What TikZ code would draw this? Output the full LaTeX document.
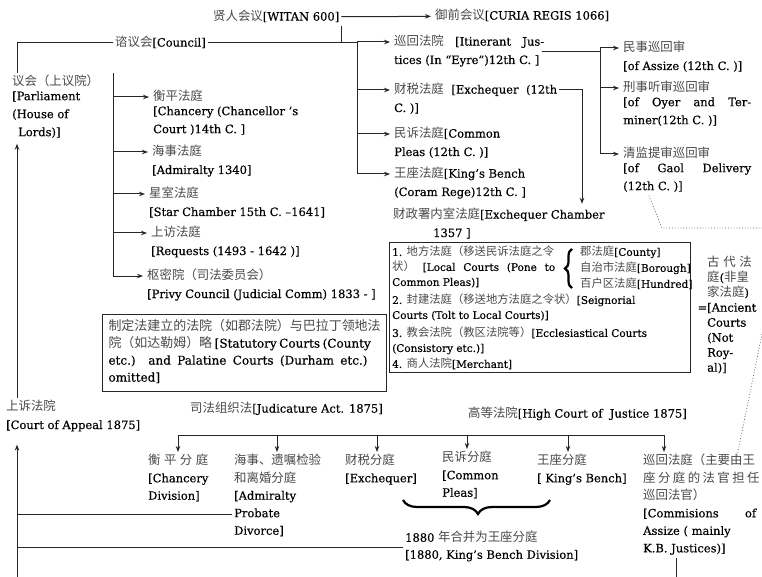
\documentclass[tikz,border=0pt]{standalone}
\usepackage{fontspec}
\setmainfont[FakeBold=0.3]{DejaVu Serif}
\newfontfamily\zhfont[Scale=1.08,Color=4A4A4A]{Noto Sans CJK SC}
\usetikzlibrary{arrows.meta,positioning,decorations.pathreplacing}

% Han characters and CJK punctuation are set in the CJK family
\XeTeXinterchartokenstate=1
\chardef\zhclass=42
\newcount\zhcount
\newcommand\zhrange[2]{\zhcount=#1\relax
  \loop\XeTeXcharclass\zhcount=\zhclass\relax
  \advance\zhcount by 1\relax
  \ifnum\zhcount<#2\relax\repeat}
\zhrange{"3000}{"3040}
\zhrange{"4E00}{"A000}
\zhrange{"FF00}{"FF60}
\XeTeXinterchartoks 0 \zhclass={\zhfont}
\XeTeXinterchartoks 4095 \zhclass={\zhfont}
\XeTeXinterchartoks \zhclass 0={\rmfamily}
\XeTeXinterchartoks \zhclass 4095={\rmfamily}

\tikzstyle{lbl}=[inner xsep=2pt, inner ysep=0pt, align=left,
  font=\fontsize{11.5}{18}\selectfont, execute at begin node=\strut]
\tikzstyle{div}=[lbl, anchor=north west, font=\fontsize{11.5}{17.5}\selectfont]
\tikzstyle{small}=[lbl, anchor=north west, font=\fontsize{10.5}{15}\selectfont]
\tikzstyle{link}=[draw=black!85, line width=1pt]
\tikzstyle{arr}=[link, -{Stealth[length=6pt,width=4.5pt]}, shorten >=2pt]
\tikzstyle{dots}=[draw=black!60, line width=0.8pt, dotted]

\begin{document}
\begin{tikzpicture}[x=1pt, y=-1pt]
\path[use as bounding box, fill=white] (0,0) rectangle (762,577);

% top row
\node[lbl, anchor=west] (witan) at (211,17) {贤人会议[WITAN 600]};
\node[lbl, anchor=west] (curia) at (433,16) {御前会议[CURIA REGIS 1066]};
\node[lbl, anchor=west] (council) at (113,43) {谘议会[Council]};
\node[lbl, anchor=west] (parl) at (10,82) {议会（上议院）};
\node[lbl, below right=0pt of parl.south west] (parlen) {[Parliament\\(House of\\\hspace*{6pt}Lords)]};

\coordinate (lv) at (17,398);
\coordinate (cr) at (357,43);
\draw[arr] (witan) -- (curia);
\draw[link] (parl.north -| lv) |- (council);
\draw[link] (council) -- (cr);
\draw[link] (witan.south east) -- (witan.south east |- cr);

% courts of the council
\node[lbl, anchor=west] (chancery) at (151,97) {衡平法庭};
\node[lbl, below right=0pt of chancery.south west] (chanceryen) {[Chancery (Chancellor ’s\\Court )14th C. ]};
\node[lbl, anchor=west] (admiralty) at (150,152) {海事法庭};
\node[lbl, below right=0pt of admiralty.south west] (admiraltyen) {[Admiralty 1340]};
\node[lbl, anchor=west] (starch) at (147,194) {星室法庭};
\node[lbl, below right=0pt of starch.south west] (starchen) {[Star Chamber 15th C. –1641]};
\node[lbl, anchor=west] (requests) at (149,233) {上访法庭};
\node[lbl, below right=0pt of requests.south west] (requestsen) {[Requests (1493 - 1642 )]};
\node[lbl, anchor=west] (privy) at (145,276) {枢密院（司法委员会）};
\node[lbl, below right=0pt of privy.south west] (privyen) {[Privy Council (Judicial Comm) 1833 - ]};

\coordinate (lc) at (113,73);
\draw[link] (lc) -- (lc |- privy);
\foreach \n in {chancery, admiralty, starch, requests, privy}
  \draw[arr] (lc |- \n) -- (\n);

% royal courts of the curia
\node[lbl, anchor=west] (eyre) at (392,42) {\makebox[150pt][s]{巡回法院 [Itinerant Jus-}};
\node[lbl, below right=0pt of eyre.south west] (eyreen) {tices (In “Eyre”)12th C. ]};
\node[lbl, anchor=west] (excheq) at (392,90) {\makebox[163pt][s]{财税法庭 [Exchequer (12th}};
\node[lbl, below right=0pt of excheq.south west] (excheqen) {C. )]};
\node[lbl, anchor=west] (pleas) at (392,134) {民诉法庭[Common};
\node[lbl, below right=0pt of pleas.south west] (pleasen) {Pleas (12th C. )]};
\node[lbl, anchor=west] (kbench) at (392,174) {王座法庭[King’s Bench};
\node[lbl, below right=0pt of kbench.south west] (kbenchen) {(Coram Rege)12th C. ]};

\draw[link] (cr |- eyre) -- (cr |- kbench);
\foreach \n in {eyre, excheq, pleas, kbench}
  \draw[arr] (cr |- \n) -- (\n);

% itinerant justices
\node[lbl, anchor=west] (assizeciv) at (621,48) {民事巡回审};
\node[lbl, below right=0pt of assizeciv.south west] (assizecriven) {[of Assize (12th C. )]};
\node[lbl, anchor=west] (oyer) at (621,88) {刑事听审巡回审};
\node[lbl, below right=0pt of oyer.south west] (oyeren) {\makebox[128pt][s]{[of Oyer and Ter-}\\miner(12th C. )]};
\node[lbl, anchor=west] (gaol) at (621,154) {清监提审巡回审};
\node[lbl, below right=0pt of gaol.south west] (gaolen) {\makebox[128pt][s]{[of Gaol Delivery}\\(12th C. )]};

\coordinate (st) at (600,52);
\draw[link] (eyreen.north east) -- (st |- eyreen.north east);
\draw[link] (st |- assizeciv) -- (st |- gaol);
\foreach \n in {assizeciv, oyer, gaol}
  \draw[arr] (st |- \n) -- (\n);

% exchequer chamber
\node[lbl, anchor=west] (exchamber) at (391,215) {财政署内室法庭[Exchequer Chamber};
\node[lbl, below right=0pt of exchamber.south west] (exchamberen) {\hspace*{40pt}1357 ]};
\coordinate (ex) at (582,90);
\draw[arr] (excheq.east) -| (ex |- exchamber.north);

% ancient courts
\node[draw=black!85, line width=1pt, anchor=north west, minimum width=301pt,
  minimum height=130pt, inner sep=0pt] (ancient) at (389,242) {};
\node[small] (ancitems) at (390,246) {1. 地方法庭（移送民诉法庭之令\\\makebox[163pt][s]{状） [Local Courts (Pone to}\\Common Pleas)]\\[3pt]2. 封建法庭（移送地方法庭之令状）[Seignorial\\Courts (Tolt to Local Courts)]\\[3pt]3. 教会法院（教区法院等）[Ecclesiastical Courts\\(Consistory etc.)]\\[1pt]4. 商人法院[Merchant]};
\node[small, font=\fontsize{10.5}{16}\selectfont] (localsub) at (578,246) {郡法庭[County]\\自治市法庭[Borough]\\百户区法庭[Hundred]};
\draw[line width=2.2pt, decorate, decoration={brace, amplitude=7pt}] (572,288) -- (572,249);
\node[lbl, anchor=north west, font=\fontsize{11.5}{15}\selectfont] (ancientlbl) at (705,256) {古 代 法\\庭(非皇\\家法庭)\\\llap{=}[Ancient\\Courts\\(Not\\Roy-\\al)]};

\node[lbl, draw=black!85, line width=1pt, anchor=north west, inner xsep=6pt, inner ysep=5pt,
  font=\fontsize{12}{17}\selectfont] (statute) at (102,314) {制定法建立的法院（如郡法院）与巴拉丁领地法\\\makebox[259pt][s]{院（如达勒姆）略 [Statutory Courts (County}\\\makebox[259pt][s]{etc.) and Palatine Courts (Durham etc.)}\\omitted]};

% 1875
\node[lbl, anchor=west] (appeal) at (4,407) {上诉法院};
\node[lbl, below right=0pt of appeal.south west] (appealen) {[Court of Appeal 1875]};
\node[lbl, anchor=west] (judact) at (188,409) {司法组织法[Judicature Act. 1875]};
\node[lbl, anchor=west] (highct) at (466,414) {高等法院[High Court of \ Justice 1875]};

\node[div] (divch) at (146,454) {\makebox[60pt][s]{衡 平 分 庭}\\{}[Chancery\\Division]};
\node[div] (divadm) at (232,454) {海事、遗嘱检验\\和离婚分庭\\{}[Admiralty\\Probate\\Divorce]};
\node[div] (divex) at (343,454) {财税分庭\\{}[Exchequer]};
\node[div] (divcp) at (440,451) {民诉分庭\\{}[Common\\Pleas]};
\node[div] (divkb) at (535,454) {王座分庭\\{}[ King’s Bench]};
\node[div] (divas) at (641,454) {巡回法庭（主要由王\\\makebox[113pt][s]{座 分 庭 的 法 官 担 任}\\巡回法官）\\\makebox[113pt][s]{[Commisions of}\\Assize ( mainly\\K.B. Justices)]};
\node[lbl, anchor=north west, font=\fontsize{11.5}{17}\selectfont] (merged) at (403,531) {1880 年合并为王座分庭\\{}[1880, King’s Bench Division]};

\coordinate (hl) at (178,435);
\coordinate (hr) at (664,435);
\draw[link] (hl) -- (hr);
\foreach \x/\n in {178/divch, 277/divadm, 377/divex, 467/divcp, 568/divkb, 664/divas}
  \draw[arr] (\x,435) -- (\x,435 |- \n.north);
\draw[line width=2.2pt, decorate, decoration={brace, amplitude=14pt, aspect=0.49}] (550,500) -- (403,500);

\coordinate (lb) at (17,577);
\coordinate (ab) at (676,577);
\path (divadm.north west) ++(0,60.5) coordinate (prob);
\draw[arr] (appeal.north -| lb) -- (parlen.south -| lb);
\draw[arr, shorten >=10pt] (lb) -- (appealen.south -| lb);
\draw[link] (prob -| lb) -- (prob);
\draw[link] (merged.west -| lb) -- (merged.west);
\draw[link] (ab |- divas.south) -- (ab);

% dotted guides
\coordinate (d1) at (662,228);
\coordinate (d2) at (762,228);
\coordinate (d3) at (762,334);
\coordinate (d4) at (737,456);
\draw[dots] ([xshift=28pt]gaolen.south west) -- (d1) -- (d2);
\draw[dots] (d3) -- (d4);
\end{tikzpicture}
\end{document}
